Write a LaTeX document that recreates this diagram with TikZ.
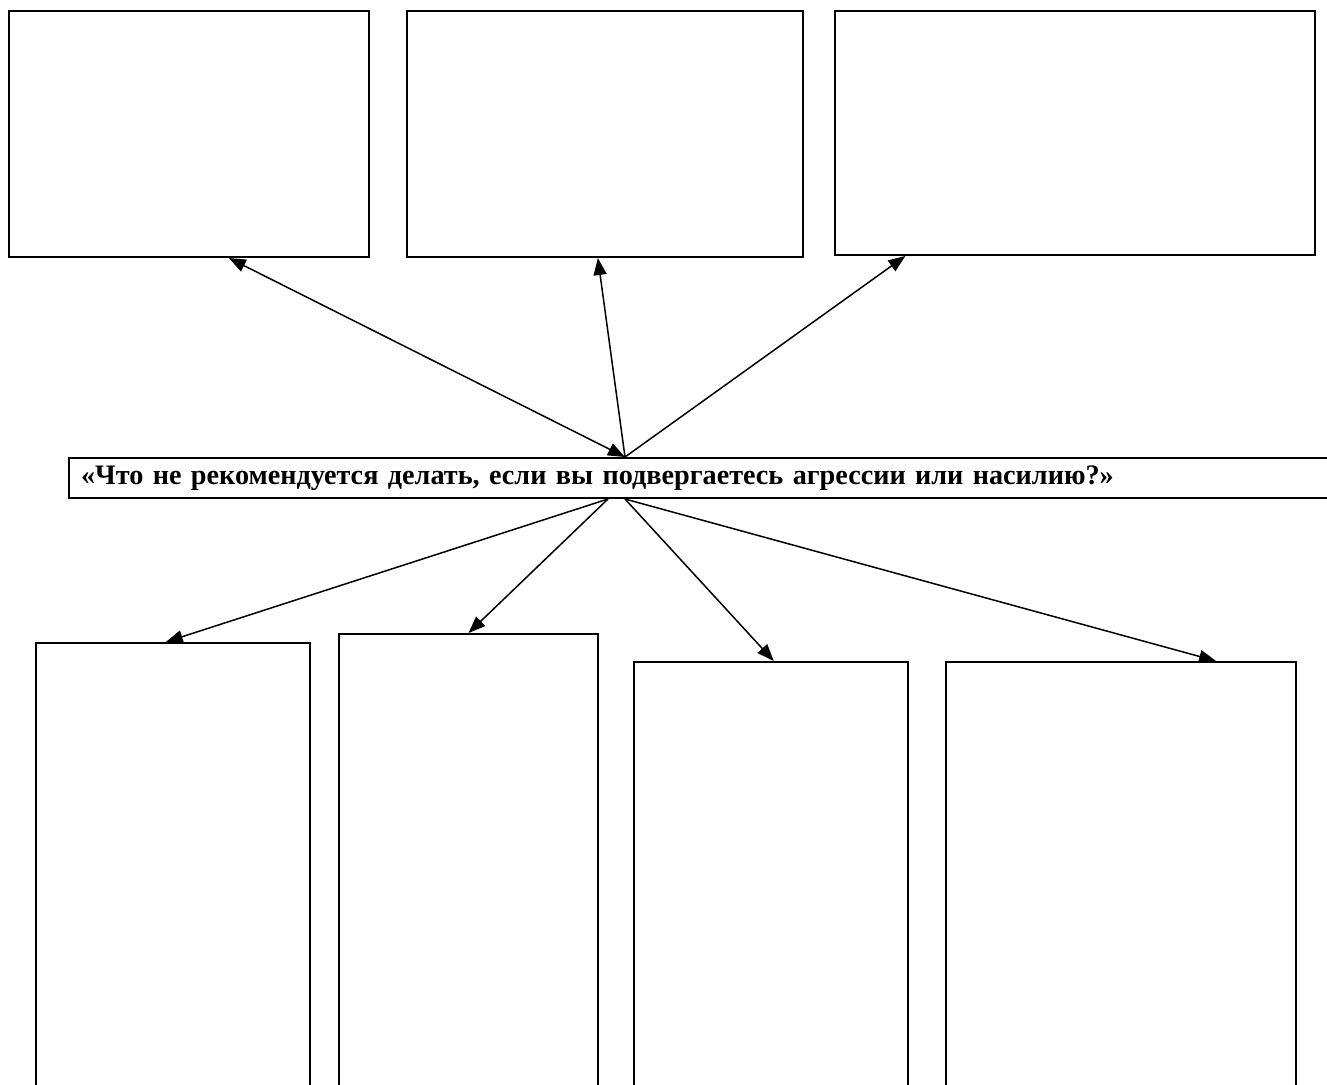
\documentclass[tikz,border=0pt]{standalone}
\usepackage{fontspec}
\setmainfont{Liberation Serif}
\usetikzlibrary{arrows.meta,calc}
\begin{document}
\begin{tikzpicture}[x=1pt,y=-1pt,
  box/.style={draw,line width=2pt,inner sep=0pt,anchor=north west},
  conn/.style={line width=1.5pt,-{Triangle[length=17pt,width=13pt]}},
  dconn/.style={line width=1.5pt,{Triangle[length=17pt,width=13pt]}-{Triangle[length=17pt,width=13pt]}}]
\clip (0,0) rectangle (1327,1084);
\fill[white] (0,0) rectangle (1327,1084);
% top boxes
\node[box,minimum width=360pt,minimum height=246pt] (t1) at (8,10) {};
\node[box,minimum width=396pt,minimum height=246pt] (t2) at (406,10) {};
\node[box,minimum width=480pt,minimum height=244pt] (t3) at (834,10) {};
% central question
\node[box,minimum width=1290pt,minimum height=40pt,inner xsep=12pt,
      text width=1266pt,align=left,
      font=\bfseries\fontsize{28.2}{30}\selectfont] (q) at (68,457)
  {«Что не рекомендуется делать, если вы подвергаетесь агрессии или насилию?»};
% bottom boxes
\node[box,minimum width=274pt,minimum height=460pt] (b1) at (35,642) {};
\node[box,minimum width=259pt,minimum height=470pt] (b2) at (338,633) {};
\node[box,minimum width=274pt,minimum height=440pt] (b3) at (633,661) {};
\node[box,minimum width=350pt,minimum height=440pt] (b4) at (945,661) {};
% anchor points on the question box
\coordinate (ct) at ($(q.north west)+(557,0)$);
\coordinate (cbl) at ($(q.south west)+(540,0)$);
\coordinate (cbr) at ($(q.south west)+(557,0)$);
% connectors
\draw[dconn] (ct) -- ($(t1.south west)!0.61!(t1.south east)$);
\draw[conn] (ct) -- ($(t2.south west)!0.482!(t2.south east)$);
\draw[conn] (ct) -- ($(t3.south west)!0.148!(t3.south east)$);
\draw[conn] (cbl) -- ($(b1.north west)!0.474!(b1.north east)$);
\draw[conn] (cbl) -- ($(b2.north west)!0.50!(b2.north east)$);
\draw[conn] (cbr) -- ($(b3.north west)!0.51!(b3.north east)$);
\draw[conn] (cbr) -- ($(b4.north west)!0.77!(b4.north east)$);
\end{tikzpicture}
\end{document}
